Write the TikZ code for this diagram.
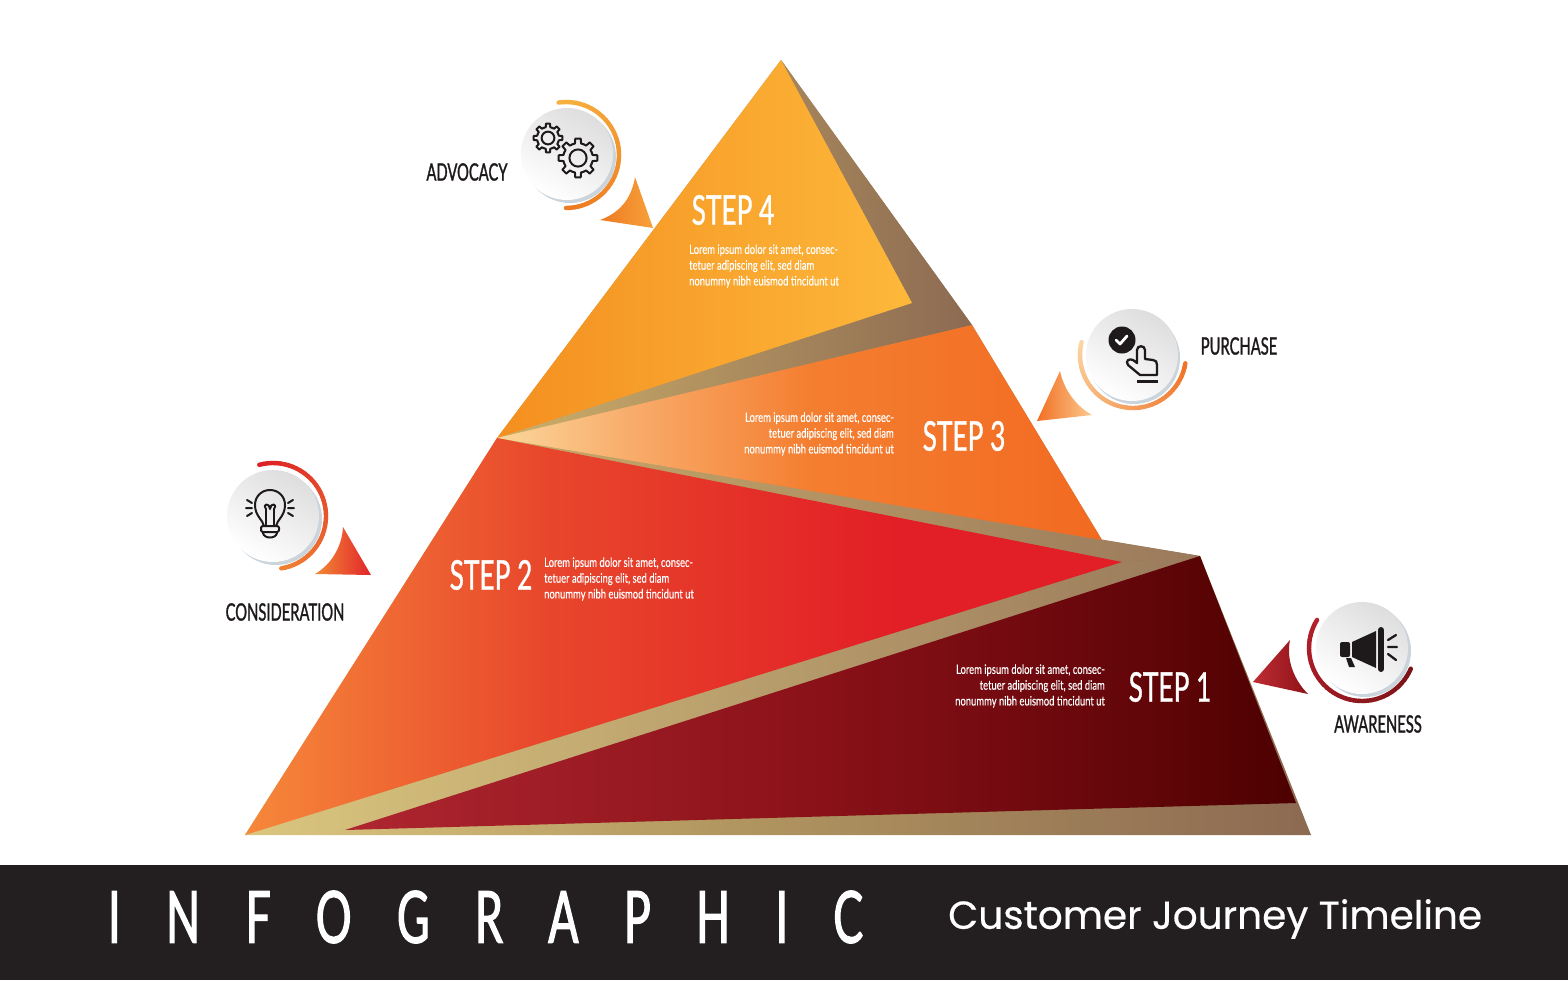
\documentclass[tikz,border=0pt]{standalone}
\usepackage{fontspec}
\usetikzlibrary{calc}
\setmainfont{Lato}
\newfontfamily\condfont[FakeStretch=0.64,FakeBold=0.9]{Lato}
\newfontfamily\labelfont[FakeStretch=0.615,FakeBold=1.1]{Lato}
\newfontfamily\lorfont[FakeStretch=0.725,FakeBold=0.25]{Lato}
\newfontfamily\bigfont[FakeStretch=0.62,FakeBold=1.6,LetterSpace=63]{Lato}
\newfontfamily\subfont[FakeBold=0.5]{Poppins}
\definecolor{darkbar}{HTML}{231F20}
\definecolor{inkc}{HTML}{1E1A1B}
\definecolor{t1}{HTML}{DCC77F}\definecolor{t2}{HTML}{B39760}\definecolor{t3}{HTML}{8C6A52}
\pgfdeclarehorizontalshading{tanshade}{100bp}{color(0bp)=(t1);color(25bp)=(t1);color(47bp)=(t2);color(75bp)=(t3);color(100bp)=(t3)}
\definecolor{a1}{HTML}{F6883A}\definecolor{a2}{HTML}{E8472C}\definecolor{a3}{HTML}{E21F26}
\pgfdeclarehorizontalshading{steptwo}{100bp}{color(0bp)=(a1);color(25bp)=(a1);color(42bp)=(a2);color(62bp)=(a3);color(75bp)=(a3);color(100bp)=(a3)}
\definecolor{b1}{HTML}{FBD79B}\definecolor{b2}{HTML}{F8AC6B}\definecolor{b3}{HTML}{F47E30}\definecolor{b4}{HTML}{F26A21}
\pgfdeclarehorizontalshading{stepthree}{100bp}{color(0bp)=(b1);color(25bp)=(b1);color(36bp)=(b2);color(51bp)=(b3);color(75bp)=(b4);color(100bp)=(b4)}
\definecolor{c1}{HTML}{AE2630}\definecolor{c2}{HTML}{8C1219}\definecolor{c3}{HTML}{6E090E}\definecolor{c4}{HTML}{4D0000}
\pgfdeclarehorizontalshading{stepone}{100bp}{color(0bp)=(c1);color(25bp)=(c1);color(49bp)=(c2);color(62bp)=(c3);color(75bp)=(c4);color(100bp)=(c4)}
\definecolor{d1}{HTML}{F48F20}\definecolor{d2}{HTML}{FDB83A}
\definecolor{shadowc}{HTML}{CBD3DB}
\tikzset{
  pyr/.style={draw=none},
  disk/.style={circle,minimum size=92pt,inner sep=0pt,left color=black!13,right color=white,shading angle=-30},
  diskshadow/.style={circle,minimum size=92pt,inner sep=0pt,fill=shadowc},
  icon/.style={draw=inkc,line width=2pt,line cap=round,line join=round},
  iconfill/.style={fill=inkc,draw=none},
  blacklabel/.style={text=inkc,inner sep=0pt,font=\labelfont\fontsize{24}{24}\selectfont},
  steplabel/.style={text=white,inner sep=0pt,font=\condfont\fontsize{41}{41}\selectfont},
  lorem/.style={text=white,inner sep=0pt,font=\lorfont\fontsize{13}{15.8}\selectfont},
  tipshape/.style={draw=none}
}
\newcommand{\gradarc}[7]{%
  \foreach \gi in {0,...,39}{%
    \pgfmathsetmacro{\ga}{#4+(#5-#4)*\gi/40}%
    \pgfmathsetmacro{\gb}{#4+(#5-#4)*(\gi+1)/40}%
    \pgfmathtruncatemacro{\gp}{100-\gi*100/39}%
    \draw[line width=4.4pt,line cap=round,color={#6!\gp!#7}]
      ({#1+#3*cos(\ga)},{#2-#3*sin(\ga)}) -- ({#1+#3*cos(\gb)},{#2-#3*sin(\gb)});
  }}
\newcommand{\gearicon}[3]{%
  \foreach \gt in {0,45,...,315}{%
    \pgfmathsetmacro{\ri}{#3*0.76}%
    \draw[icon] ({#1+\ri*cos(\gt-22.5)},{#2+\ri*sin(\gt-22.5)})
      -- ({#1+\ri*cos(\gt-12)},{#2+\ri*sin(\gt-12)})
      -- ({#1+#3*cos(\gt-8)},{#2+#3*sin(\gt-8)})
      -- ({#1+#3*cos(\gt+8)},{#2+#3*sin(\gt+8)})
      -- ({#1+\ri*cos(\gt+12)},{#2+\ri*sin(\gt+12)})
      -- ({#1+\ri*cos(\gt+22.5)},{#2+\ri*sin(\gt+22.5)});
  }
  \draw[icon] (#1,#2) circle ({#3*0.44});
}
\begin{document}
\begin{tikzpicture}[x=1pt,y=-1pt]
\useasboundingbox (0,0) rectangle (1568,980);
\fill[white] (0,0) rectangle (1568,980);
% pyramid backing and tan bands
\path[pyr,shading=tanshade] (781,60) -- (972,325) -- (1102,540) -- (1200,556) -- (1311,835) -- (245,835) -- (497,438) -- cycle;
\definecolor{u1}{HTML}{CDB06A}\definecolor{u2}{HTML}{8C6A52}
\path[pyr,left color=u1,right color=u2] (781,60) -- (972,325) -- (497,438) -- (912,303) -- cycle;
\definecolor{v1}{HTML}{C8A868}\definecolor{v2}{HTML}{9A7A5C}
\path[pyr,left color=v1,right color=v2] (497,438) -- (1200,556) -- (1122,562) -- cycle;
\definecolor{w1}{HTML}{DAC67E}\definecolor{w2}{HTML}{9A7A5C}
\path[pyr,left color=w1,right color=w2] (245,835) -- (1122,562) -- (1200,556) -- (345,830) -- cycle;
% steps
\path[pyr,left color=d1,right color=d2] (781,60) -- (912,303) -- (497,438) -- cycle;
\path[pyr,shading=stepthree] (497,438) -- (972,325) -- (1102,540) -- cycle;
\path[pyr,shading=steptwo] (497,438) -- (1122,562) -- (245,835) -- cycle;
\path[pyr,shading=stepone] (1200,556) -- (1296,803) -- (345,830) -- cycle;
% banner
\fill[darkbar] (0,865) rectangle (1568,980);
\node[text=white,inner sep=0pt,anchor=west,font=\bigfont\fontsize{72}{72}\selectfont] (bigtitle) at (108,917) {INFOGRAPHIC};
\node[text=white,inner sep=0pt,anchor=west,font=\subfont\fontsize{39}{39}\selectfont] (subtitle) at (948,919) {Customer Journey Timeline};
% step titles
\node[steplabel] (s4) at (733,210) {STEP 4};
\node[steplabel] (s3) at (964,436) {STEP 3};
\node[steplabel] (s2) at (491,575) {STEP 2};
\node[steplabel] (s1) at (1170,687) {STEP 1};
\node[lorem,anchor=west,align=left] (l4) at (689,266) {Lorem ipsum dolor sit amet, consec-\\tetuer adipiscing elit, sed diam\\nonummy nibh euismod tincidunt ut};
\node[lorem,anchor=east,align=right] (l3) at (894,434) {Lorem ipsum dolor sit amet, consec-\\tetuer adipiscing elit, sed diam\\nonummy nibh euismod tincidunt ut};
\node[lorem,anchor=west,align=left] (l2) at (544,579) {Lorem ipsum dolor sit amet, consec-\\tetuer adipiscing elit, sed diam\\nonummy nibh euismod tincidunt ut};
\node[lorem,anchor=east,align=right] (l1) at (1105,686) {Lorem ipsum dolor sit amet, consec-\\tetuer adipiscing elit, sed diam\\nonummy nibh euismod tincidunt ut};
% outer labels
\node[blacklabel] (advocacy) at (467,172) {ADVOCACY};
\node[blacklabel] (purchase) at (1239,346) {PURCHASE};
\node[blacklabel] (consideration) at (285,612) {CONSIDERATION};
\node[blacklabel] (awareness) at (1378,724) {AWARENESS};
% pointers
\definecolor{p1}{HTML}{EE7A22}\definecolor{p2}{HTML}{F7A13A}
\path[tipshape,left color=p1,right color=p2] (635,177) -- (653,228) -- (600,220) .. controls (622,212) and (632,196) .. (635,177) -- cycle;
\definecolor{q1}{HTML}{F28A35}\definecolor{q2}{HTML}{E2242B}
\path[tipshape,left color=q1,right color=q2] (343,527) -- (371,575) -- (315,574) .. controls (332,564) and (342,546) .. (343,527) -- cycle;
\definecolor{r1}{HTML}{F26F24}\definecolor{r2}{HTML}{FBCB8F}
\path[tipshape,left color=r1,right color=r2] (1060,371) .. controls (1064,390) and (1076,406) .. (1092,415) -- (1037,421) -- cycle;
\definecolor{s1c}{HTML}{8E1218}\definecolor{s2c}{HTML}{BE2C33}
\path[tipshape,left color=s2c,right color=s1c] (1290,640) .. controls (1286,660) and (1294,680) .. (1308,694) -- (1253,682) -- cycle;
% disks
\node[diskshadow] (sh4) at (570,157) {};
\node[disk] (d4) at (567,154) {};
\node[diskshadow] (sh3) at (1134,358) {};
\node[disk] (d3) at (1132,355) {};
\node[diskshadow] (sh2) at (276,519) {};
\node[disk] (d2) at (273,516) {};
\node[diskshadow] (sh1) at (1365,651) {};
\node[disk] (d1) at (1362,648) {};
% arcs
\definecolor{arcA}{HTML}{F6B23E}\definecolor{arcB}{HTML}{EE7A22}
\gradarc{566}{155}{53}{98}{-90}{arcA}{arcB}
\definecolor{arcC}{HTML}{FBD6A4}\definecolor{arcD}{HTML}{F07427}
\gradarc{1133}{355}{53}{166}{351}{arcC}{arcD}
\definecolor{arcE}{HTML}{DC1F26}\definecolor{arcF}{HTML}{F08030}
\gradarc{273}{516}{53}{105}{-81}{arcE}{arcF}
\definecolor{arcG}{HTML}{B5202A}\definecolor{arcH}{HTML}{7C1418}
\gradarc{1362}{648}{53}{148}{337}{arcG}{arcH}
% gears icon
\gearicon{548}{138}{14.5}
\gearicon{578}{158}{19.5}
% bulb icon
\draw[icon] (264,526) .. controls (263,520) and (255,516) .. (255,505)
  .. controls (255,496) and (262,490) .. (270,490)
  .. controls (278,490) and (285,496) .. (285,505)
  .. controls (285,516) and (277,520) .. (276,526);
\draw[icon,rounded corners=2pt] (261,526) rectangle (279,532);
\draw[icon] (263,533) .. controls (264,539) and (276,539) .. (277,533);
\draw[icon] (266,526) -- (266,509) (274,526) -- (274,509);
\draw[icon] (266,509) .. controls (262,503) and (270,503) .. (270,509) .. controls (270,503) and (278,503) .. (274,509);
\draw[icon] (247,500) -- (252,503) (246,508) -- (252,508) (247,516) -- (252,513);
\draw[icon] (293,500) -- (288,503) (294,508) -- (288,508) (293,516) -- (288,513);
% hand icon
\fill[inkc] (1122,340) circle (13.5);
\draw[white,line width=2.8pt,line cap=round,line join=round] (1116,340) -- (1120,344) -- (1127,336);
\draw[icon,line width=2.3pt] (1140,375) -- (1128,365) .. controls (1125,361) and (1129,358) .. (1133,360)
  -- (1137,363) -- (1137,350) .. controls (1137,345) and (1145,345) .. (1145,350)
  -- (1145,359) -- (1153,360) .. controls (1156,360) and (1157,362) .. (1157,365)
  -- (1157,375) -- cycle;
\draw[icon,line width=3pt,line cap=butt] (1137,381) -- (1158,381);
% megaphone icon
\path[iconfill] (1352,642) -- (1376,631) -- (1376,668) -- (1352,657) -- cycle;
\path[iconfill,rounded corners=2pt] (1340,642) -- (1350,642) -- (1350,657) -- (1340,657) -- cycle;
\draw[icon,line width=6pt] (1381,630) -- (1381,669);
\path[iconfill] (1346,658) -- (1351,658) -- (1355,667) -- (1349,667) -- cycle;
\draw[icon,line width=2.3pt] (1388,640) -- (1396,635) (1388,647) -- (1397,647) (1388,654) -- (1396,660);
\end{tikzpicture}
\end{document}
